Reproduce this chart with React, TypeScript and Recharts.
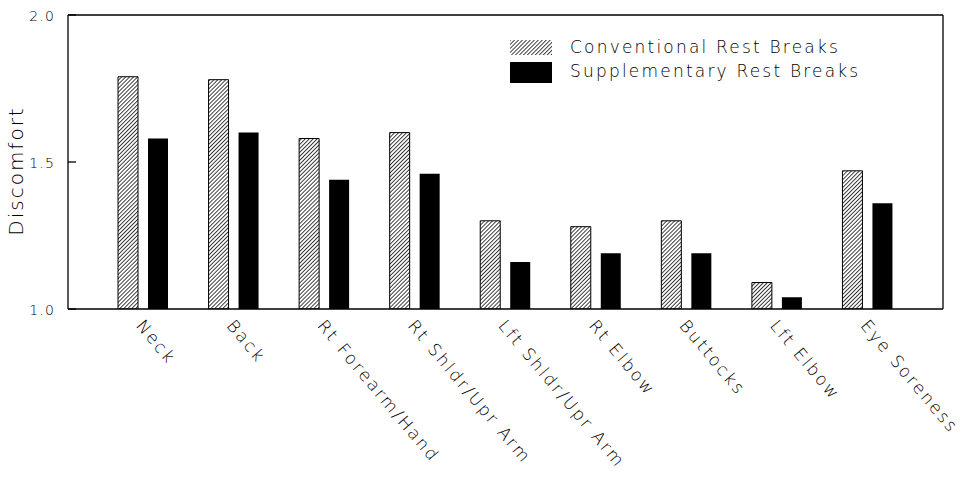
import { BarChart, Bar, XAxis, YAxis, ReferenceLine, Legend } from 'recharts';

const categories = [
  'Neck',
  'Back',
  'Rt Forearm/Hand',
  'Rt Shldr/Upr Arm',
  'Lft Shldr/Upr Arm',
  'Rt Elbow',
  'Buttocks',
  'Lft Elbow',
  'Eye Soreness',
];
const conventional = [1.79, 1.78, 1.58, 1.6, 1.3, 1.28, 1.3, 1.09, 1.47];
const supplementary = [1.58, 1.6, 1.44, 1.46, 1.16, 1.19, 1.19, 1.04, 1.36];
const yTicks = [1.0, 1.5, 2.0];
const seriesNames = ['Conventional Rest Breaks', 'Supplementary Rest Breaks'];

const FONT = "'DejaVu Sans', sans-serif";
const WEIGHT = 200;

const data = categories.map((name, i) => ({
  name,
  conventional: conventional[i],
  supplementary: supplementary[i],
}));

// left axis: inward tick + label
const LeftTick = ({ x, y, payload }: any) => (
  <g>
    <line x1={x} y1={y} x2={x + 8} y2={y} stroke="#000" strokeWidth={1.3} />
    <text
      x={x - 13}
      y={y + 6}
      textAnchor="end"
      fontSize={14}
      fontWeight={WEIGHT}
      letterSpacing={1.2}
      fontFamily={FONT}
      fill="#000"
    >
      {payload.value.toFixed(1)}
    </text>
  </g>
);

// right axis: inward tick only
const RightTick = ({ x, y }: any) => (
  <line x1={x} y1={y} x2={x - 8} y2={y} stroke="#000" strokeWidth={1.3} />
);

const CategoryTick = ({ x, y, payload }: any) => {
  const ax = x - 8;
  const ay = y + 17;
  return (
    <text
      x={ax}
      y={ay}
      transform={`rotate(50, ${ax}, ${ay})`}
      textAnchor="start"
      fontSize={17}
      fontWeight={WEIGHT}
      letterSpacing={2.3}
      fontFamily={FONT}
      fill="#000"
    >
      {payload.value}
    </text>
  );
};

const LegendBox = () => (
  <svg width={420} height={50} style={{ display: 'block', overflow: 'visible' }}>
    <rect x={0} y={0} width={42} height={15} fill="url(#hatch)" />
    <text x={60} y={13} fontSize={17} fontWeight={WEIGHT} letterSpacing={2.2} fontFamily={FONT} fill="#000">
      {seriesNames[0]}
    </text>
    <rect x={0} y={22} width={42} height={21} fill="#000" />
    <text x={60} y={37} fontSize={17} fontWeight={WEIGHT} letterSpacing={2.2} fontFamily={FONT} fill="#000">
      {seriesNames[1]}
    </text>
  </svg>
);

export default function App() {
  return (
    <div style={{ width: 965, height: 480, background: '#fff' }}>
      <style>{'body{margin:0}'}</style>
      <BarChart
        width={965}
        height={480}
        data={data}
        margin={{ top: 15, right: 0, bottom: 0, left: 0 }}
        barSize={20}
        barGap={10}
      >
        <defs>
          <pattern
            id="hatch"
            patternUnits="userSpaceOnUse"
            width={2.8}
            height={2.8}
            patternTransform="rotate(45)"
          >
            <rect width={2.8} height={2.8} fill="#fff" />
            <line x1={0} y1={0} x2={0} y2={2.8} stroke="#000" strokeWidth={1.5} />
          </pattern>
        </defs>
        <XAxis
          dataKey="name"
          height={171}
          padding={{ left: 30, right: 30 }}
          axisLine={{ stroke: '#000', strokeWidth: 1.3 }}
          tickLine={false}
          tickSize={0}
          tickMargin={0}
          interval={0}
          tick={<CategoryTick />}
        />
        <YAxis
          yAxisId="left"
          width={68}
          domain={[1, 2]}
          ticks={yTicks}
          allowDataOverflow
          axisLine={{ stroke: '#000', strokeWidth: 1.3 }}
          tickLine={false}
          tickSize={0}
          tickMargin={0}
          tick={<LeftTick />}
          label={{
            content: ({ viewBox }: any) => {
              const cx = viewBox.x + 23;
              const cy = viewBox.y + viewBox.height / 2 + 9;
              return (
                <text
                  x={cx}
                  y={cy}
                  transform={`rotate(-90, ${cx}, ${cy})`}
                  textAnchor="middle"
                  fontSize={20}
                  fontWeight={WEIGHT}
                  letterSpacing={2}
                  fontFamily={FONT}
                  fill="#000"
                >
                  Discomfort
                </text>
              );
            },
          }}
        />
        <YAxis
          yAxisId="right"
          orientation="right"
          width={22}
          domain={[1, 2]}
          ticks={yTicks}
          axisLine={{ stroke: '#000', strokeWidth: 1.3 }}
          tickLine={false}
          tickSize={0}
          tickMargin={0}
          tick={<RightTick />}
        />
        <ReferenceLine yAxisId="left" y={2} stroke="#000" strokeWidth={1.3} />
        <Legend
          layout="vertical"
          align="center"
          verticalAlign="middle"
          content={() => <LegendBox />}
          wrapperStyle={{ position: 'absolute', top: 40, left: 510, width: 420 }}
        />
        <Bar
          yAxisId="left"
          dataKey="conventional"
          name={seriesNames[0]}
          fill="url(#hatch)"
          stroke="#000"
          strokeWidth={1}
          isAnimationActive={false}
        />
        <Bar
          yAxisId="left"
          dataKey="supplementary"
          name={seriesNames[1]}
          fill="#000"
          isAnimationActive={false}
        />
      </BarChart>
    </div>
  );
}
